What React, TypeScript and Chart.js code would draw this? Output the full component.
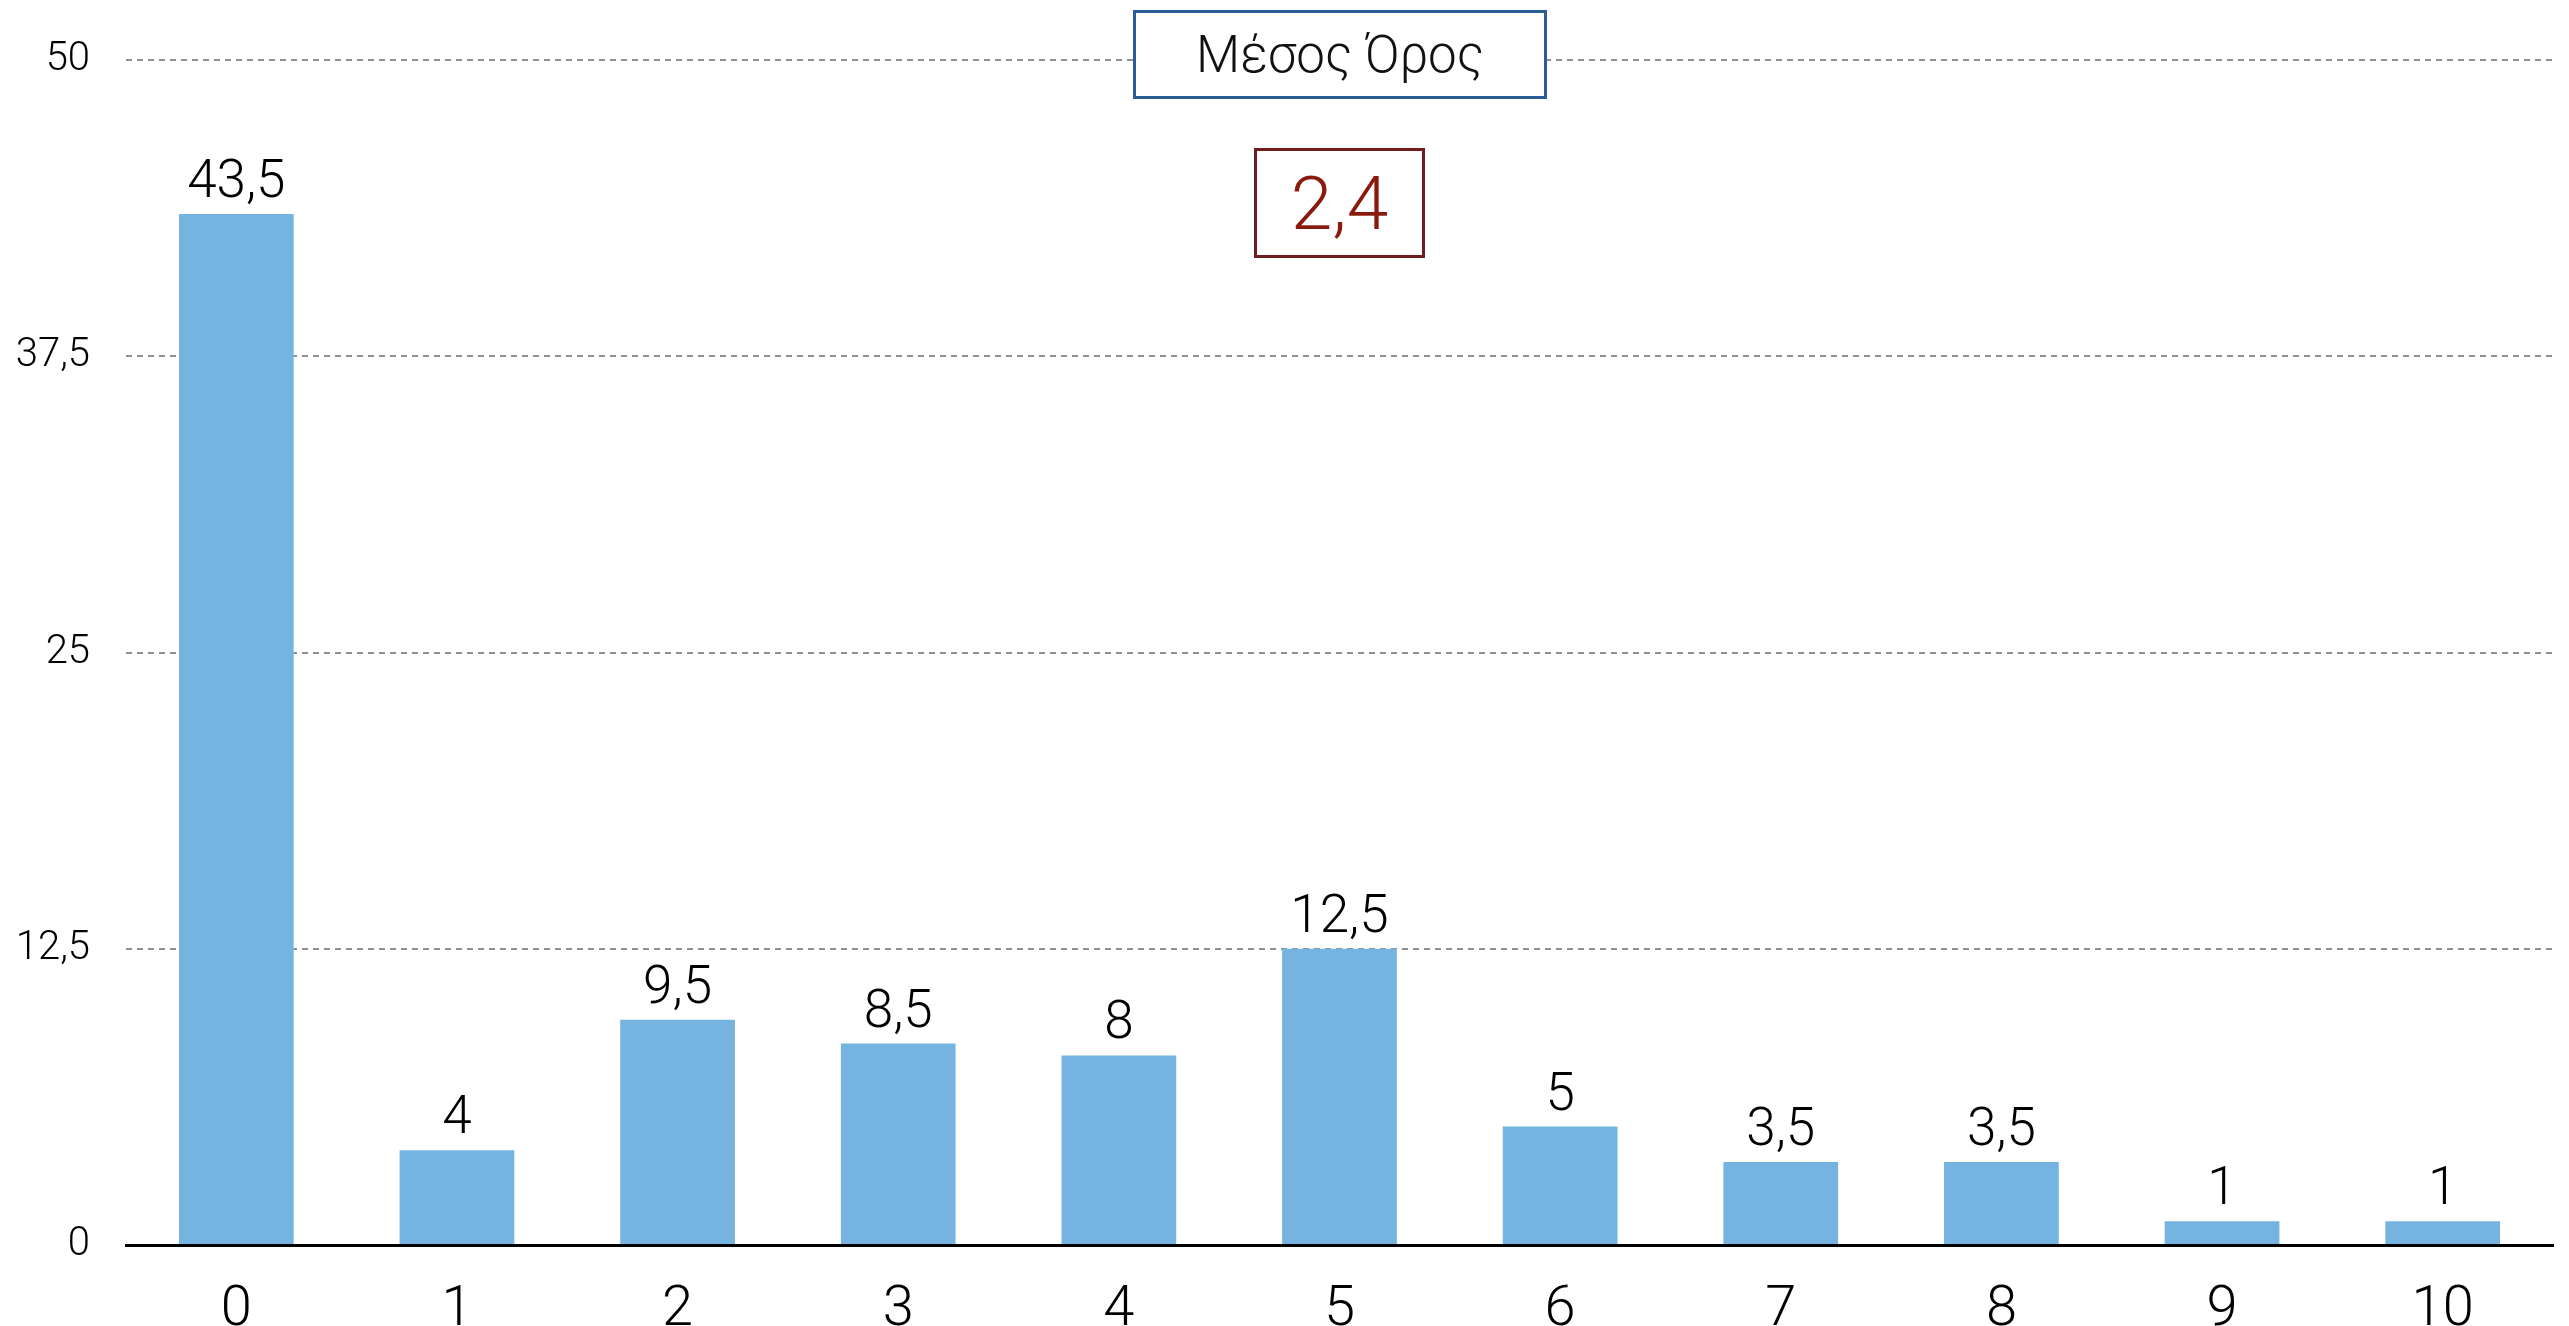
import React, { useEffect, useRef } from "react";
import { Chart, registerables } from "chart.js";

Chart.register(...registerables);

const categories = ["0", "1", "2", "3", "4", "5", "6", "7", "8", "9", "10"];
const values = [43.5, 4, 9.5, 8.5, 8, 12.5, 5, 3.5, 3.5, 1, 1];
const yTicks = [0, 12.5, 25, 37.5, 50];
const titleLabel = "Μέσος Όρος";
const meanLabel = "2,4";

const FONT = "Roboto, 'Liberation Sans', sans-serif";
const fmt = (v: number) => String(v).replace(".", ",");

const dataLabels = {
  id: "dataLabels",
  afterDatasetsDraw(chart: any) {
    const ctx = chart.ctx;
    const meta = chart.getDatasetMeta(0);
    ctx.save();
    ctx.font = `300 53px ${FONT}`;
    ctx.fillStyle = "#000";
    ctx.textAlign = "center";
    ctx.textBaseline = "alphabetic";
    meta.data.forEach((bar: any, i: number) => {
      ctx.fillText(fmt(values[i]), bar.x, bar.y - 17);
    });
    ctx.restore();
  },
};

export default function App() {
  const ref = useRef<HTMLCanvasElement>(null);
  useEffect(() => {
    document.body.style.margin = "0";
    const chart = new Chart(ref.current!, {
      type: "bar",
      data: {
        labels: categories,
        datasets: [
          {
            data: values,
            backgroundColor: "#75b3e0",
            borderWidth: 0,
            categoryPercentage: 1,
            barPercentage: 0.52,
          },
        ],
      },
      options: {
        responsive: false,
        animation: false,
        devicePixelRatio: 1,
        layout: { padding: { top: 55, right: 16, left: 0, bottom: 0 } },
        plugins: { legend: { display: false }, tooltip: { enabled: false } },
        scales: {
          x: {
            grid: { display: false },
            border: { display: true, color: "#000", width: 3 },
            ticks: {
              color: "#000",
              font: { family: FONT, size: 56, weight: "300" },
              padding: 24,
            },
            afterFit: (s: any) => {
              s.height = 81;
            },
          },
          y: {
            min: 0,
            max: 50,
            afterBuildTicks: (s: any) => {
              s.ticks = yTicks.map((v) => ({ value: v }));
            },
            grid: {
              drawTicks: false,
              color: (c: any) => (c.tick && c.tick.value === 0 ? "rgba(0,0,0,0)" : "#8f8f8f"),
              lineWidth: 2,
            },
            border: { display: false, dash: [6, 5] },
            ticks: {
              color: "#000",
              font: { family: FONT, size: 40, weight: "300" },
              padding: 36,
              callback: (v: any) => fmt(Number(v)),
            },
            afterFit: (s: any) => {
              s.width = 126;
            },
          },
        },
      },
      plugins: [dataLabels],
    });
    return () => chart.destroy();
  }, []);

  return (
    <div style={{ position: "fixed", left: 0, top: 0, width: 2569, height: 1326, background: "#fff" }}>
      <canvas ref={ref} width={2569} height={1326} style={{ position: "absolute", left: 0, top: 0 }} />
      <div
        style={{
          position: "absolute",
          left: 1133,
          top: 10,
          width: 414,
          height: 89,
          boxSizing: "border-box",
          border: "3px solid #2b5d97",
          background: "#fff",
          display: "flex",
          alignItems: "center",
          justifyContent: "center",
          fontFamily: FONT,
          fontWeight: 300,
          fontSize: 51,
          color: "#111",
        }}
      >
        {titleLabel}
      </div>
      <div
        style={{
          position: "absolute",
          left: 1254,
          top: 148,
          width: 171,
          height: 110,
          boxSizing: "border-box",
          border: "3px solid #6e1c1c",
          background: "#fff",
          display: "flex",
          alignItems: "center",
          justifyContent: "center",
          fontFamily: FONT,
          fontWeight: 300,
          fontSize: 75,
          color: "#8b1a0e",
        }}
      >
        {meanLabel}
      </div>
    </div>
  );
}
